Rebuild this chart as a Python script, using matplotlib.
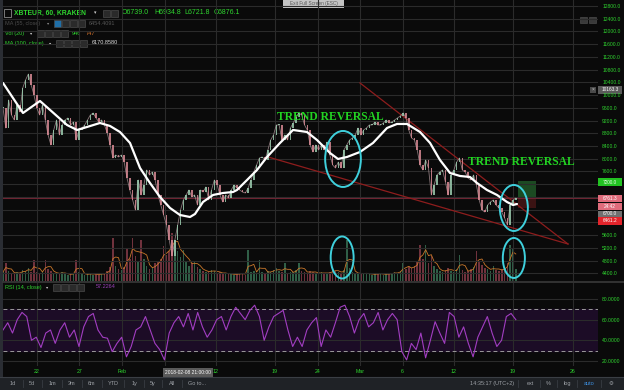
import matplotlib
matplotlib.use("Agg")
import matplotlib.pyplot as plt
from matplotlib.patches import Ellipse, Rectangle
import numpy as np
import pandas as pd

plt.rcParams['font.family'] = ['Liberation Sans', 'DejaVu Sans']

price_start = "2018-01-18 00:00"
price_end = "2018-03-19 08:00"
close = [9595, 8967, 9847, 9375, 9218, 9690, 9470, 10224, 10475, 10663, 10318, 10004, 9595, 9375, 9690,
         9218, 8747, 8433, 8904, 9218, 8747, 9061, 9218, 9281, 9061, 9155, 8590, 8904, 8967, 9061,
         9218, 9375, 9438, 9281, 9155, 9218, 9061, 8810, 8433, 8024, 8118, 8056, 8118, 7898, 7396,
         7019, 6705, 6390, 7333, 6862, 7176,
         7647, 7490, 7584, 7333, 6862, 6547, 6233, 5919, 5448, 4950, 5448, 5919, 6390, 6705, 6862,
         7019, 6799, 6862, 6547, 7019, 6956, 7113, 6705, 7019, 7333, 7176, 6862, 6642, 6862, 6768,
         7019, 7176, 7082, 7019, 6956, 6924, 7082, 7333, 7584, 7804, 8024, 8056, 7961, 8276, 8590,
         8747, 9061, 9061, 8590, 8747, 8590, 8967,
         9124, 9312, 9438, 9375, 9061, 8904, 8433, 8213, 8433, 8276, 8433, 8276, 8527, 8118, 7804,
         7710, 7898, 7710, 8276, 8433, 8590, 8653, 8747, 8967, 8747, 8904, 8967, 9061, 9061, 9155,
         9061, 9061, 9124, 9218, 9124, 9155, 9218, 9281, 9344, 9438, 9281, 8904, 8653, 8590, 8276,
         7804, 7647,
         7961, 7710, 6862, 7176, 7490, 7584, 7647, 7270, 6862, 7490, 7647, 7898, 8024, 7647, 7584,
         7396, 7333, 7490, 7176, 6705, 6390, 6327, 6547, 6642, 6705, 6547, 6453, 6327, 6139, 5919,
         6547, 6705, 6760]
volume = [900, 1800, 1000, 800, 700, 900, 800, 1100, 1000, 1300, 900, 2100, 900, 800, 1000,
          2100, 1200, 1000, 800, 700, 800, 900, 700, 600, 700, 800, 2100, 900, 700, 600,
          700, 800, 600, 700, 600, 800, 700, 1000, 1400, 4300, 1500, 1200, 1100, 1400, 3300,
          2200, 4300, 2500, 2000, 4100, 2200,
          1500, 1200, 1300, 1800, 2000, 2200, 3500, 2600, 3000, 4800, 4100, 3000, 2400, 3100, 2000,
          1500, 1800, 2000, 1400, 1200, 1000, 950, 900, 1100, 1000, 800, 900, 700, 800, 700,
          700, 600, 700, 800, 700, 600, 3100, 900, 1000, 800, 2100, 900, 800, 1000, 900,
          1100, 1300, 1000, 900, 1800, 800, 900,
          900, 1100, 1800, 1000, 900, 800, 1000, 900, 800, 700, 900, 800, 700, 900, 1200,
          1000, 900, 800, 1100, 4100, 1300, 900, 800, 700, 800, 700, 800, 700, 600, 700,
          800, 700, 600, 700, 800, 700, 900, 800, 1000, 1800, 1200, 1400, 1300, 1500, 2000,
          3600, 2200,
          3600, 1800, 2500, 1500, 1200, 1000, 900, 1100, 1300, 1000, 900, 1200, 2600, 1100, 900,
          1000, 1200, 1400, 3000, 2000, 1600, 1300, 1200, 1000, 1500, 1100, 1000, 1200, 1300, 1800,
          3600, 3300, 1200]

# white MA(100) line, days since 2018-02-01
ma_day = [-14.0, -11.65, -9.65, -6.47, -5.29, -4.12, -2.59, -1.41, -0.24, 0.94, 2.12, 3.29, 4.47,
          5.65, 6.82, 8.0, 8.59, 9.53, 10.71, 11.88, 13.06, 13.53, 14.71, 15.88, 17.06, 18.59,
          20.12, 21.76, 22.94, 24.47, 25.41, 26.47, 28.0, 29.53, 31.18, 32.35, 33.53, 35.06,
          36.24, 37.41, 38.59, 39.76, 40.94, 41.76, 42.94, 44.12, 45.29, 46.0, 46.47]
ma_val = [10381, 9438, 9815, 9061, 8904, 8998, 9124, 9030, 8841, 8496, 7710, 7239, 6799,
          6453, 6233, 6170, 6265, 6642, 6862, 6924, 6956, 7019, 7333, 7647, 8056, 8496,
          8904, 8841, 8590, 8181, 7993, 8056, 8213, 8496, 8967, 9093, 9093, 8841,
          8496, 7961, 7553, 7459, 7427, 7239, 7019, 6862, 6642, 6547, 6579]

rsi_val = [50, 57, 47, 60, 67, 63, 40, 43, 33, 47, 50, 37, 50, 57, 43, 50, 34, 53, 63, 66,
           50, 43, 42, 29, 37, 43, 24, 34, 50, 53, 63, 50, 37, 31, 21, 47, 57, 63, 53, 66,
           50, 67, 53, 43, 50, 60, 63, 50, 63, 72, 66, 60, 69, 74, 63, 40, 53, 63, 66, 69,
           50, 34, 43, 34, 50, 57,
           62, 34, 50, 43, 57, 72, 74, 63, 47, 60, 66, 53, 57, 67, 50, 60, 66, 60, 29, 21,
           37, 31, 47, 23, 40, 58, 47, 37, 67, 63, 43, 53, 37, 24, 43, 53, 63, 47, 34, 40,
           63, 66, 60]

price_ticks = list(range(4400, 12801, 400))
hidden_price_ticks = [6000, 6400, 6800, 7200]   # covered by the price boxes
rsi_ticks = [20, 40, 60, 80]
date_ticks = ["2018-01-22", "2018-01-27", "2018-02-01", "2018-02-06", "2018-02-12", "2018-02-19",
              "2018-02-24", "2018-03-01", "2018-03-06", "2018-03-12", "2018-03-19", "2018-03-26"]
date_labels = ["22", "27", "Feb", "", "12", "19", "24", "Mar", "6", "12", "19", "26"]
last_price = 6761.3

# drawn annotations (day, price)
upper_trend = ([28.0, 52.47], [10381, 5322])
lower_trend = ([17.18, 52.47], [8056, 5322])
circles = [(26.0, 7993, 4.2, 1760), (25.9, 4898, 2.7, 1320),
           (46.1, 6453, 3.3, 1445), (46.1, 4882, 2.6, 1257)]

# ---- colours ----
bg = '#0a0a0a'
grid = '#2b2b2b'
green = '#2fd52f'
up_c, dn_c = '#9ccdb0', '#d98a94'

W, H = 624, 390
t0 = pd.Timestamp("2018-02-01")


def rect(l, t, r, b):
    return [l / W, 1 - b / H, (r - l) / W, (b - t) / H]


def to_day(ts):
    return (pd.to_datetime(ts) - t0) / pd.Timedelta(days=1)


days = np.asarray(to_day(pd.date_range(price_start, price_end, periods=len(close))))
rsi_day = np.asarray(to_day(pd.date_range(price_start, price_end, periods=len(rsi_val))))
tick_days = np.asarray(to_day(pd.to_datetime(date_ticks)))

fig = plt.figure(figsize=(6.24, 3.90), dpi=100, facecolor=bg)

# ---------------- price pane ----------------
ax = fig.add_axes(rect(3, 0, 598, 281))
ax_v = ax.twinx()
ax.set_zorder(ax_v.get_zorder() + 1)
ax.patch.set_visible(False)
ax_v.patch.set_facecolor(bg)

c = np.array(close, dtype=float)
o = np.r_[c[0], c[:-1]]
is_up = c >= o
body = np.where(np.abs(c - o) < 20, 20, c - o)
ax.plot(days, c, color='#a89094', lw=0.6, alpha=0.8, zorder=2.5)
ax.bar(days, body, bottom=o, width=0.18, color=np.where(is_up, up_c, dn_c), linewidth=0,
       alpha=0.85, zorder=3)

ax_v.bar(days, volume, width=0.18, color=np.where(is_up, '#3d7d5c', '#93404f'), linewidth=0,
         alpha=0.75)
ax_v.plot(days, pd.Series(volume).rolling(3, min_periods=1).mean(), color='#c9772a', lw=0.6)
ax_v.set_ylim(0, 28100)
ax_v.set_yticks([])

ax.plot(ma_day, ma_val, color='white', lw=1.6, zorder=4, solid_capstyle='round')
ax.axhline(last_price, color='#6e2432', lw=0.8, zorder=2)
ax.plot(*upper_trend, color='#8e1d1d', lw=0.9, zorder=2)
ax.plot(*lower_trend, color='#8e1d1d', lw=0.9, zorder=2)
ax.add_patch(Rectangle((46.6, 6768), 2.1, 534, facecolor='#1c4a22', edgecolor='none', zorder=1))
ax.add_patch(Rectangle((46.6, 6453), 2.1, 315, facecolor='#3b1313', edgecolor='none', zorder=1))
for cx, cy, w, h in circles:
    ax.add_patch(Ellipse((cx, cy), w, h, fill=False, edgecolor='#3fd0dc', lw=1.4, zorder=6))
for tx, ty in [(18.24, 9312), (40.7, 7898)]:
    ax.text(tx, ty, "TREND REVERSAL", color='#22d422', fontsize=8.4, fontweight='bold',
            family='Liberation Serif', va='center', ha='left', zorder=7)

ax.set_xlim(-14.0, 56.0)
ax.set_ylim(4159, 12988)
ax.set_xticks(tick_days)
ax.set_yticks(price_ticks)
ax.set_yticklabels(["" if v in hidden_price_ticks else f"{v:.1f}" for v in price_ticks])
ax.yaxis.tick_right()
ax.tick_params(axis='x', labelbottom=False, length=0)
ax.tick_params(axis='y', length=0, pad=3, labelsize=3.6, labelcolor=green)
ax.grid(color=grid, lw=0.8)
for a in (ax, ax_v):
    for s in a.spines.values():
        s.set_visible(False)

# ---------------- RSI pane ----------------
ar = fig.add_axes(rect(3, 283, 598, 366), facecolor=bg)
ar.axhspan(30, 70, color='#1c0c26', zorder=0)
ar.axhline(70, color='#9a9a9a', lw=0.7, dashes=(4, 3), zorder=2)
ar.axhline(30, color='#9a9a9a', lw=0.7, dashes=(4, 3), zorder=2)
ar.plot(rsi_day, rsi_val, color='#a23ec2', lw=0.8, zorder=3)
ar.set_xlim(-14.0, 56.0)
ar.set_ylim(15.1, 95.5)
ar.set_xticks(tick_days)
ar.set_xticklabels(date_labels)
ar.set_yticks(rsi_ticks)
ar.set_yticklabels([f"{v:.4f}" for v in rsi_ticks])
ar.yaxis.tick_right()
ar.tick_params(axis='x', length=0, pad=2.5, labelsize=3.8, labelcolor=green)
ar.tick_params(axis='y', length=0, pad=3, labelsize=3.6, labelcolor=green)
ar.grid(color=grid, lw=0.8)
for s in ar.spines.values():
    s.set_visible(False)

# ---------------- overlay: legends, labels, toolbar ----------------
ov = fig.add_axes([0, 0, 1, 1])
ov.set_xlim(0, W)
ov.set_ylim(H, 0)
ov.axis('off')
ov.patch.set_visible(False)

ov.add_patch(Rectangle((0, 0), 3, 377, facecolor='#2a2d33', edgecolor='none'))
ov.plot([3, 624], [282, 282], color='#3a3a3a', lw=1.2)


def icons(x0, y, n, first='#2a2a2a'):
    for k in range(n):
        ov.add_patch(Rectangle((x0 + k * 8, y - 3.5), 6.5, 7,
                               facecolor=first if k == 0 else '#2a2a2a',
                               edgecolor='#4a4a4a', lw=0.5))


# header
ov.add_patch(Rectangle((4, 9), 7, 8, facecolor='none', edgecolor='#8a8a8a', lw=0.6))
ov.text(14, 13, "XBTEUR, 60, KRAKEN", color=green, fontsize=4.9, fontweight='bold', va='center')
ov.text(94, 13, "▾", color='#cfcfcf', fontsize=3.5, va='center')
icons(103, 13, 2)
for s, x in [("O6739.0", 122), ("H6934.8", 154), ("L6721.8", 184), ("C6876.1", 214)]:
    ov.text(x, 13, s, color=green, fontsize=5.0, va='center')

ov.text(5, 23.5, "MA (55, close)", color='#4a4a4a', fontsize=4.0, va='center')
ov.text(47, 23.5, "▾", color='#8a8a8a', fontsize=3.2, va='center')
icons(54, 23.5, 4, first='#1f6fa8')
ov.text(89, 23.5, "6454.4091", color='#555555', fontsize=4.0, va='center')

ov.text(5, 33.5, "Vol (20)", color=green, fontsize=4.0, va='center')
ov.text(30, 33.5, "▾", color='#cfcfcf', fontsize=3.2, va='center')
icons(37, 33.5, 4)
ov.text(72, 33.5, "946", color=green, fontsize=4.0, va='center')
ov.text(86, 33.5, "747", color='#e0782c', fontsize=4.0, va='center')

ov.text(5, 43, "MA (100, close)", color=green, fontsize=4.0, va='center')
ov.text(49, 43, "▾", color='#cfcfcf', fontsize=3.2, va='center')
icons(56, 43, 4)
ov.text(92, 43, "6170.8580", color='#dddddd', fontsize=4.0, va='center')

ov.text(5, 287, "RSI (14, close)", color=green, fontsize=4.0, va='center')
ov.text(46, 287, "▾", color='#cfcfcf', fontsize=3.2, va='center')
icons(53, 287, 4)
ov.text(96, 287, "57.2264", color='#9a3fb8', fontsize=4.0, va='center')

# exit full screen tab
ov.add_patch(Rectangle((283, 0), 61, 8, facecolor='#c4c4c4', edgecolor='none'))
ov.text(313.5, 4, "Exit Full Screen (ESC)", color='#555555', fontsize=3.4, ha='center', va='center')
ov.add_patch(Rectangle((580, 17), 7, 6, facecolor='#3a3a3a', edgecolor='#555555', lw=0.4))
ov.add_patch(Rectangle((589, 17), 7, 6, facecolor='#3a3a3a', edgecolor='#555555', lw=0.4))

# price scale boxes
for txt, y0, y1, fc, tc in [("10163.3", 85.5, 93.5, '#5a5a5a', 'white'),
                            ("7200.0", 178, 186, '#22c222', '#eaffea'),
                            ("6761.3", 194.5, 202, '#e06c7c', 'white'),
                            ("24:42", 202.5, 210, '#e06c7c', 'white'),
                            ("6700.0", 210.5, 216.5, '#707070', 'white'),
                            ("6461.2", 217, 224.5, '#e3242b', 'white')]:
    ov.add_patch(Rectangle((598, y0), 24, y1 - y0, facecolor=fc, edgecolor='none'))
    ov.text(610, (y0 + y1) / 2, txt, color=tc, fontsize=3.4, ha='center', va='center')
ov.add_patch(Rectangle((590, 86.5), 6, 6, facecolor='#4a4a4a', edgecolor='none'))
ov.text(593, 89.5, "×", color='#cccccc', fontsize=3.5, ha='center', va='center')

# crosshair time box
ov.add_patch(Rectangle((163, 367.5), 50, 9, facecolor='#5a5a5a', edgecolor='none'))
ov.text(188, 372, "2018-02-08 21:00:00", color='white', fontsize=3.5, ha='center', va='center')

# bottom toolbar
ov.add_patch(Rectangle((0, 377), W, 13, facecolor='#1f2226', edgecolor='none'))
ov.plot([0, W], [377.3, 377.3], color='#3a3e44', lw=0.8)
for s, x in [("1d", 13), ("5d", 32), ("1m", 52), ("3m", 72), ("6m", 92), ("YTD", 113),
             ("1y", 135), ("5y", 153), ("All", 172), ("Go to...", 197)]:
    ov.text(x, 383.5, s, color='#9da1a6', fontsize=4, ha='center', va='center')
for x in [23, 42, 62, 82, 102, 124, 144, 162, 182]:
    ov.plot([x, x], [380, 387], color='#383c42', lw=0.6)
for s, x, col in [("14:35:17 (UTC+2)", 492, '#9da1a6'), ("ext", 530, '#9da1a6'),
                  ("%", 548, '#9da1a6'), ("log", 567, '#9da1a6'), ("auto", 589, '#3d8fe0'),
                  ("⚙", 611, '#9da1a6')]:
    ov.text(x, 383.5, s, color=col, fontsize=4, ha='center', va='center',
            family=['Liberation Sans', 'DejaVu Sans'])
for x in [518, 540, 557, 577, 601]:
    ov.plot([x, x], [380, 387], color='#383c42', lw=0.6)

fig.savefig("out.png", dpi=100, facecolor=bg)
